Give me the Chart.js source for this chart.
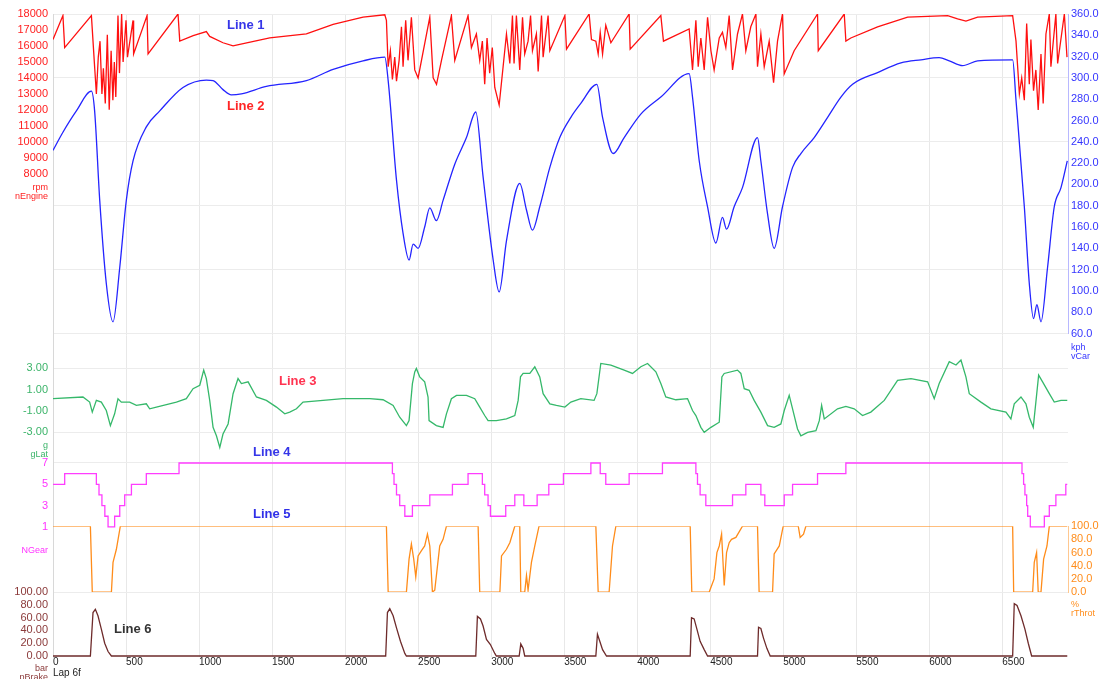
<!DOCTYPE html>
<html><head><meta charset="utf-8">
<script src="https://cdn.jsdelivr.net/npm/chart.js@4.4.1/dist/chart.umd.min.js"></script>
<style>html,body{margin:0;padding:0;background:#fff}#wrap{width:1103px;height:679px;position:relative}</style>
</head><body><div id="wrap"><canvas id="c"></canvas></div>
<script>
// ---------- DATA ----------
const distTicks = [0,500,1000,1500,2000,2500,3000,3500,4000,4500,5000,5500,6000,6500];
const rpmTicks = [18000,17000,16000,15000,14000,13000,12000,11000,10000,9000,8000];
const speedTicks = [360,340,320,300,280,260,240,220,200,180,160,140,120,100,80,60];
const glatTicks = [3,1,-1,-3];
const gearTicks = [7,5,3,1];
const thrTicks = [100,80,60,40,20,0];
const brakeTicks = [100,80,60,40,20,0];

const rpmDist = [0,68,80,263,285,297,310,322,335,345,358,372,385,398,410,420,430,445,455,470,480,500,510,548,552,644,651,856,868,960,1050,1073,1164,1233,1279,1484,1735,1918,2123,2272,
2283,2295,2310,2324,2340,2352,2370,2386,2397,2415,2431,2454,2477,2500,2580,2603,2626,2660,2728,2751,2842,2865,2899,
2922,2940,2956,2972,2990,3008,3025,3055,3082,3105,3128,3146,3157,3173,3196,3215,3230,3253,3270,3283,3310,3322,3345,3356,3390,3402,3505,3516,
3671,3687,3717,3733,3747,3763,3785,3820,3945,3952,4162,4180,4356,
4379,4402,4418,4436,4459,4482,4505,4527,4562,4584,4607,4630,4653,4687,4721,4744,4778,4813,4824,4847,4870,4904,4934,4961,4995,5007,5075,5235,5240,5418,5429,5463,5646,5852,6126,6194,6251,6331,6571,
6594,6617,6633,6651,6667,6685,6696,6714,6730,6746,6765,6780,6799,6822,6833,6867,6879,6925,6943];
const rpmVals = [16400,17900,15900,17900,14700,13000,15300,16300,13000,14600,12400,16700,12000,15700,12600,15000,12800,17900,14300,18000,15000,17600,15300,17600,15500,17900,15500,18000,16300,16650,16900,16600,16200,16000,16100,16500,16750,17350,17800,17950,
17600,14700,15700,13900,15300,13800,15100,17200,14700,17600,15100,17800,14500,14000,17800,14000,13600,15100,17900,15100,17900,15900,16750,
15100,16300,13600,16500,14300,15900,13400,12300,14700,16750,14900,17900,14900,17900,14500,17800,15500,16300,17900,15700,16750,14400,17900,15300,17900,15700,17900,15800,
18000,16400,16300,15500,16850,15500,17300,16200,18000,15800,17900,16300,17060,
14500,17600,14700,16500,14500,17800,15700,14500,16500,16850,15900,17900,14500,16750,18000,15700,17200,18000,14700,16750,14700,16300,13700,16300,18000,14250,15700,18000,15700,18000,16300,16500,17200,17800,17900,17700,17550,17800,17900,
16300,13000,14000,12600,17400,13600,16400,13200,14500,12000,15500,12400,16750,18000,14700,18000,14900,18000,15300];

const speedDist = [0,68,160,263,285,320,365,411,457,502,548,639,731,890,1050,1096,1164,1221,1290,1461,1735,1918,2123,2272,
2295,2352,2397,2438,2466,2500,2545,2580,2625,2671,2751,2831,2895,
2945,3014,3055,3105,3196,3242,3283,3333,3402,3470,3546,3614,3724,
3763,3836,3911,4025,4162,4356,
4379,4425,4482,4539,4584,4612,4664,4721,4824,
4847,4893,4938,4995,5064,5121,5212,5304,5395,5475,5646,5806,5943,6068,6137,6228,6331,6571,
6594,6651,6685,6714,6737,6765,6810,6856,6902,6945];
const speedVals = [232,249,269,287.5,269,185,107,71,122,185,222,254,269,291,298,297.5,289,284,285,292,297.5,308,316,319.5,
297.5,204,154,129,144,140,160,178,166,185,219,244,268,
207,129,99,147,201,176,157,179,216,244,263,276,294,
263,229,244,266,282,304,
282,222,179,145,169,158,179,197,244,
222,172,140,179,216,229,244,263,282,294,305,314,317,319,316,311.5,316,317,
279,179,107,74,87,71,122,179,197,222];

const glatDist = [0,205,251,269,297,331,365,393,422,445,468,525,571,639,662,708,845,913,959,1005,1032,1050,1073,1096,1119,1142,1164,1199,1233,1267,1290,1336,1393,1461,1530,1587,1621,1667,1712,1849,1986,2169,2260,
2329,2374,2420,2438,2461,2477,2488,2511,2545,2568,2575,2625,2671,2694,2728,2763,2831,2888,2922,2956,2979,3036,3105,3162,3185,3201,3219,3265,3299,3333,3356,3402,3447,3505,
3546,3614,3705,3724,3751,3820,3911,3968,4025,4071,4128,4162,4196,4265,4345,4379,4402,4436,4459,4505,4562,4580,4596,4687,4710,4733,4767,4801,4847,4893,4938,4984,5007,5041,5064,5098,5121,5167,5224,5247,5263,5281,5372,5429,5486,5543,5600,5692,5783,5875,5989,6034,6068,6137,6183,6217,6251,6274,6354,6422,6525,6559,6582,6628,6662,6685,6712,6730,6749,6776,6822,6856,6902,6945];
const glatVals = [0.16,0.32,-0.16,-1.1,0,-0.16,-0.95,-2.37,-1.26,0.16,-0.16,-0.16,-0.47,-0.32,-0.79,-0.63,-0.16,0.16,1.1,1.42,2.84,2.05,0,-2.53,-3.32,-4.42,-3.16,-2.21,0.63,2.05,1.58,1.74,0.32,0,-0.63,-1.26,-1.1,-0.79,-0.16,0,0.16,0.16,0.06,
-0.47,-1.58,-2.37,-1.9,1.58,2.68,3.0,2.21,1.74,0.32,-1.9,-2.37,-2.53,-1.26,0.16,0.47,0.47,0.16,-0.63,-1.42,-1.9,-1.9,-1.74,-1.42,0,2.21,2.53,2.53,3.16,2.21,0.63,-0.32,-0.47,-0.63,
-0.16,0.16,0,0.63,3.47,3.32,2.84,2.53,3.16,3.47,2.68,1.58,0.32,0.06,0.16,-0.95,-1.42,-2.53,-3.0,-2.53,-2.05,2.21,2.53,2.84,2.53,1.1,0.95,0,-1.1,-2.37,-2.53,-2.21,-0.95,0.47,-0.79,-2.68,-3.32,-3.0,-2.84,-1.9,-0.47,-1.74,-0.79,-0.57,-0.79,-1.42,-1.1,0,1.89,2.05,1.74,0.16,1.58,3.63,3.32,3.79,2.21,0.63,-0.16,-0.79,-1.1,-1.74,-0.32,0.32,-0.32,-1.58,-2.53,-0.16,2.37,1.74,0.63,-0.16,0,0];

const gearDist = [0,80,297,315,335,355,377,422,457,491,537,639,863,2324,2335,2352,2374,2409,2461,2580,2735,2842,2940,2956,2979,2995,3100,3162,3224,3315,3395,3495,3683,3747,3785,3945,4173,4402,4413,4431,4470,4653,4744,4847,4874,5007,5064,5235,5429,6635,6646,6655,6667,6674,6692,6788,6822,6867,6935,6945];
const gearVals = [5,6,5,4,3,2,1,2,3,4,5,6,7,6,5,4,3,2,3,4,5,6,5,4,3,2,3,4,3,4,5,6,7,6,5,6,7,6,5,4,3,4,5,4,3,4,5,6,7,6,5,4,3,2,1,2,3,4,5,5];

const thrDist = [0,256,269,400,411,434,461,2283,2295,2420,2438,2454,2470,2484,2500,2523,2545,2564,2580,2598,2614,2648,2671,2694,2911,2922,3060,3071,3105,3128,3162,3196,3203,3230,3242,3253,3276,3299,3328,
3717,3733,3808,3831,3854,4363,4374,4493,4527,4546,4562,4578,4596,4612,4630,4646,4676,4721,4824,4835,4927,4938,4973,5000,5103,5116,5139,5155,6571,6578,6708,6719,6735,6746,6765,6783,6806,6822,6945];
const thrVals = [100,100,0,0,45,65,100,100,0,0,50,73,50,23,55,63,70,88,70,0,3,70,80,100,100,0,0,55,65,75,100,100,0,0,25,3,45,70,100,
100,0,0,70,100,100,0,0,20,60,70,88,10,60,75,80,83,100,100,0,0,58,70,100,100,83,88,100,100,0,0,45,60,0,0,50,70,100,100];

const brakeDist = [0,256,274,290,308,331,354,377,400,2278,2290,2306,2329,2352,2379,2409,2420,2895,2906,2927,2945,2968,2995,3025,3036,3192,3203,3219,3230,
3717,3728,3744,3763,3790,4363,4372,4390,4409,4431,4459,4482,4824,4831,4847,4865,4888,4911,6571,6582,6601,6628,6655,6678,6701,6945];
const brakeVals = [0,0,68,73,63,42,20,7,0,0,68,74,63,44,23,4,0,0,62,58,47,26,18,4,0,0,19,12,0,
0,34,23,10,0,0,60,58,42,23,10,0,0,45,43,28,12,0,0,82,79,63,42,20,0,0];

const labelTexts = ['Line 1','Line 2','Line 3','Line 4','Line 5','Line 6'];
const labelDist = [1320,1320,1676,1498,1498,546];
const labelVals = [17312,272.8,1.78,8.0,118,42];

// ---------- CHART ----------
const FAM = '"Liberation Sans", Arial, sans-serif';
const pts = (xs, ys) => xs.map((x, i) => ({x: x, y: ys[i]}));

function yAxis(o) {
  const all = o.ticks.concat(o.unitVal !== undefined ? [o.unitVal] : []);
  return {
    type: 'linear', position: o.pos, stack: o.pos, stackWeight: o.weightPx, weight: o.order,
    min: o.min, max: o.max, bounds: 'data', display: true,
    afterBuildTicks: s => { s.ticks = all.map(v => ({value: v})); },
    afterFit: s => { s.width = o.pos === 'left' ? 53 : 35; },
    ticks: {
      display: o.showTicks !== false, autoSkip: false, padding: o.pos === 'left' ? 5 : 3,
      callback: v => (v === o.unitVal ? o.unitLabel : o.fmt(v)),
      color: o.color || '#000',
      font: ctx => (ctx.tick && ctx.tick.value === o.unitVal)
        ? {family: FAM, size: 9, lineHeight: 1}
        : {family: FAM, size: 11, lineHeight: 1.1}
    },
    grid: {
      drawTicks: false, display: o.showTicks !== false,
      color: ctx => (ctx.tick && (o.grid || []).indexOf(ctx.tick.value) >= 0) ? '#ececec' : 'rgba(0,0,0,0)'
    },
    border: {display: o.border !== undefined, color: o.border || 'rgba(0,0,0,0)'}
  };
}

const scales = {
  x: {
    type: 'linear', position: 'bottom', min: 0, max: 6950, bounds: 'data',
    afterBuildTicks: s => { s.ticks = distTicks.map(v => ({value: v})); },
    afterFit: s => { s.height = 22; },
    ticks: {autoSkip: false, maxRotation: 0, minRotation: 0, align: 'start', padding: 0,
      callback: v => String(v), color: '#222', font: {family: FAM, size: 10, lineHeight: 1}},
    grid: {color: '#e8e8e8', drawTicks: false},
    border: {display: false},
    title: {display: true, text: 'Lap 6f', align: 'start', color: '#222',
      font: {family: FAM, size: 10, lineHeight: 1}, padding: {top: 0, bottom: 1}}
  },
  yRpm: yAxis({pos: 'left', weightPx: 320, order: 4, min: -2000, max: 18000, ticks: rpmTicks,
    unitVal: 6875, unitLabel: ['rpm', 'nEngine'], fmt: v => String(v), color: '#ff2020', border: '#d8d8d8'}),
  yGlat: yAxis({pos: 'left', weightPx: 124, order: 3, min: -5.344, max: 6.281, ticks: glatTicks,
    unitVal: -4.69, unitLabel: ['g', 'gLat'], fmt: v => v.toFixed(2), color: '#3cb46a', grid: [3, -3], border: '#d8d8d8'}),
  yGear: yAxis({pos: 'left', weightPx: 135, order: 2, min: -5.122, max: 7.534, ticks: gearTicks,
    unitVal: -1.18, unitLabel: 'NGear', fmt: v => String(v), color: '#ff33ff', grid: [7], border: '#d8d8d8'}),
  yBrake: yAxis({pos: 'left', weightPx: 65, order: 1, min: -1.5625, max: 100, ticks: brakeTicks,
    unitVal: -27.3, unitLabel: ['bar', 'pBrake'], fmt: v => v.toFixed(2), color: '#8b3a3a', border: '#d8d8d8'}),
  ySpeed: yAxis({pos: 'right', weightPx: 320, order: 1, min: 60, max: 360, ticks: speedTicks,
    unitVal: 42.2, unitLabel: ['kph', 'vCar'], fmt: v => v.toFixed(1), color: '#3535ff',
    grid: [360, 300, 240, 180, 120, 60], border: '#b8b8ff'}),
  yFill1: yAxis({pos: 'right', weightPx: 193, order: 2, min: 0, max: 1, ticks: [], fmt: v => '', showTicks: false}),
  yThr: yAxis({pos: 'right', weightPx: 66, order: 3, min: 0, max: 100, ticks: thrTicks,
    unitVal: -25, unitLabel: ['%', 'rThrot'], fmt: v => v.toFixed(1), color: '#ff8c1a', grid: [0], border: '#ffc890'}),
  yFill2: yAxis({pos: 'right', weightPx: 65, order: 4, min: 0, max: 1, ticks: [], fmt: v => '', showTicks: false})
};

const lineLabels = {
  id: 'lineLabels',
  afterDatasetsDraw(chart) {
    const axes = ['yRpm', 'ySpeed', 'yGlat', 'yGear', 'yThr', 'yBrake'];
    const cols = ['#3535e8', '#ff2525', '#ff3350', '#3535e8', '#2f2fe8', '#333333'];
    const ctx = chart.ctx;
    ctx.save();
    ctx.font = 'bold 13px ' + FAM;
    ctx.textAlign = 'center';
    ctx.textBaseline = 'middle';
    labelTexts.forEach((t, i) => {
      ctx.fillStyle = cols[i];
      ctx.fillText(t, chart.scales.x.getPixelForValue(labelDist[i]), chart.scales[axes[i]].getPixelForValue(labelVals[i]));
    });
    ctx.restore();
  }
};

const ds = (label, xs, ys, axis, color, extra) => Object.assign({
  label: label, data: pts(xs, ys), yAxisID: axis, borderColor: color, backgroundColor: color,
  borderWidth: 1.3, pointRadius: 0, tension: 0, fill: false
}, extra || {});

new Chart(document.getElementById('c'), {
  type: 'line',
  data: {datasets: [
    ds('nEngine', rpmDist, rpmVals, 'yRpm', '#ff1010'),
    ds('vCar', speedDist, speedVals, 'ySpeed', '#2424ff', {cubicInterpolationMode: 'monotone'}),
    ds('gLat', glatDist, glatVals, 'yGlat', '#35b86a'),
    ds('NGear', gearDist, gearVals, 'yGear', '#ff3dff', {stepped: 'before'}),
    ds('rThrot', thrDist, thrVals, 'yThr', '#ff8c1a'),
    ds('pBrake', brakeDist, brakeVals, 'yBrake', '#6e2b2b')
  ]},
  options: {
    responsive: true, maintainAspectRatio: false, animation: false,
    layout: {padding: {top: 13, left: 0, right: 0, bottom: 0}},
    plugins: {legend: {display: false}, tooltip: {enabled: false}},
    scales: scales
  },
  plugins: [lineLabels]
});
</script>
</body></html>
